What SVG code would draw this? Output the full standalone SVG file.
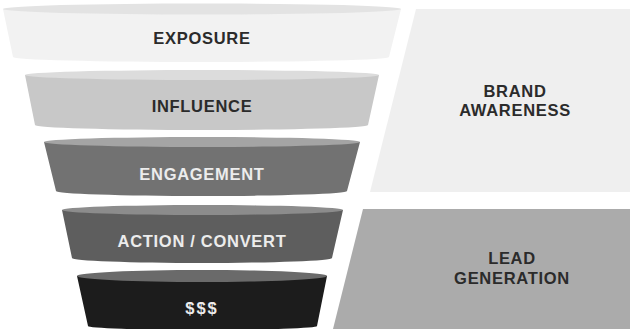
<svg xmlns="http://www.w3.org/2000/svg" width="630" height="329" viewBox="0 0 630 329">
<style>
.t{font-family:"Liberation Sans",Arial,sans-serif;font-weight:bold;font-size:16.5px;letter-spacing:0.7px;text-anchor:middle}
.dk{fill:#2b2b2b}
.lt{fill:#ececec}
</style>
<rect width="630" height="329" fill="#ffffff"/>
<g id="brand-awareness">
<polygon points="416,9 630,9 630,192 370,192" fill="#efefef"/>
<text class="t dk" x="515" y="97">BRAND</text>
<text class="t dk" x="515" y="116">AWARENESS</text>
</g>
<g id="lead-generation">
<polygon points="363,209 630,209 630,329 333,329" fill="#ababab"/>
<text class="t dk" x="512" y="264">LEAD</text>
<text class="t dk" x="512" y="284">GENERATION</text>
</g>
<g id="exposure">
<path d="M3,9 L13,57 A188,5 0 0 0 389,57 L401,9 Z" fill="#f2f2f2"/>
<ellipse cx="202" cy="9" rx="199" ry="5.5" fill="#e3e3e3"/>
<text class="t dk" x="202" y="44">EXPOSURE</text>
</g>
<g id="influence">
<path d="M25,75 L35,125 A166.5,5 0 0 0 368,125 L379,75 Z" fill="#c8c8c8"/>
<ellipse cx="202" cy="75" rx="177" ry="5" fill="#dcdcdc"/>
<text class="t dk" x="202" y="112">INFLUENCE</text>
</g>
<g id="engagement">
<path d="M44,142 L56,191 A145.5,5 0 0 0 347,191 L360,142 Z" fill="#727272"/>
<ellipse cx="202" cy="142" rx="158" ry="5" fill="#a4a4a4"/>
<text class="t lt" x="202" y="180">ENGAGEMENT</text>
</g>
<g id="action-convert">
<path d="M62,210 L72,258 A130,5 0 0 0 332,258 L343,210 Z" fill="#5e5e5e"/>
<ellipse cx="202.5" cy="210" rx="140.5" ry="5" fill="#8c8c8c"/>
<text class="t lt" x="202" y="247">ACTION / CONVERT</text>
</g>
<g id="money">
<path d="M77,276 L88,326 A114.5,4 0 0 0 317,326 L327,276 Z" fill="#1c1c1c"/>
<ellipse cx="202" cy="276" rx="125" ry="6" fill="#6a6a6a"/>
<text class="t lt" x="202" y="314" style="letter-spacing:2px">$$$</text>
</g>
<g id="connectors"></g>
</svg>
